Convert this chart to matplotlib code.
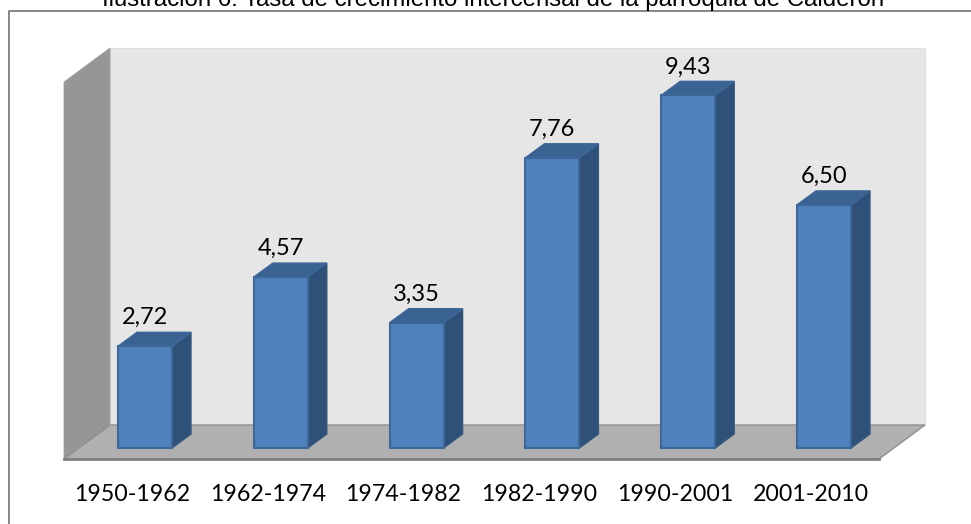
import matplotlib
matplotlib.use("Agg")
import matplotlib.pyplot as plt
from matplotlib.patches import Polygon
from matplotlib.lines import Line2D
from matplotlib.transforms import ScaledTranslation

periods = ["1950-1962", "1962-1974", "1974-1982", "1982-1990", "1990-2001", "2001-2010"]
rates = [2.72, 4.57, 3.35, 7.76, 9.43, 6.50]
title = "Ilustración 6: Tasa de crecimiento intercensal de la parroquia de Calderón"

W, H = 971, 524
fig = plt.figure(figsize=(W / 100, H / 100), dpi=100, facecolor="white")

# front plane of the 3D box, in pixels of the picture
L, R, T, B = 64, 879, 82, 459
ax = fig.add_axes([L / W, 1 - B / H, (R - L) / W, (B - T) / H])
PX_X, PX_Y = 135.8, 37.4
ax.set_xlim((L - 145) / PX_X, (R - 145) / PX_X)
ax.set_ylim(-(B - 448) / PX_Y, (448 - T) / PX_Y)
ax.patch.set_visible(False)
for s in ax.spines.values():
    s.set_visible(False)
ax.set_yticks([])

# outer frame
fig.add_artist(Line2D([8.5 / W, 8.5 / W, 1], [0, 1 - 11 / H, 1 - 11 / H],
                      transform=fig.transFigure, color="#868686", lw=1.4))

# walls and floor in axes fractions
fx, fy = 46 / (R - L), 34 / (B - T)
t = ax.transAxes
ax.add_patch(Polygon([(fx, fy), (1 + fx, fy), (1 + fx, 1 + fy), (fx, 1 + fy)], transform=t,
                     fc="#e6e6e6", ec="#dedede", lw=0.8, clip_on=False, zorder=1))
ax.add_patch(Polygon([(0, 0), (fx, fy), (fx, 1 + fy), (0, 1)], transform=t,
                     fc="#969696", ec="#a0a0a0", lw=0.6, clip_on=False, zorder=1.1))
ax.add_patch(Polygon([(0, 0), (1, 0), (1 + fx, fy), (fx, fy)], transform=t,
                     fc="#b0b0b0", ec="#8e8e8e", lw=1.0, clip_on=False, zorder=1.2))
ax.add_line(Line2D([0, 1], [0, 0], transform=t, color="#7f7f7f", lw=2, clip_on=False, zorder=1.3))

# bars
xs = list(range(len(rates)))
BAR_W = 54 / PX_X
DX, DY = 19 / PX_X, 14 / PX_Y
EDGE = "#3c6797"
ax.bar(xs, rates, width=BAR_W, color="#4f81bd", edgecolor=EDGE, linewidth=1.5, zorder=3)
for x, v in zip(xs, rates):
    r, l = x + BAR_W / 2, x - BAR_W / 2
    ax.add_patch(Polygon([(r, 0), (r + DX, DY), (r + DX, v + DY), (r, v)],
                         fc="#2f5179", ec="#34597f", lw=1.0, zorder=2.9, clip_on=False))
    ax.add_patch(Polygon([(l, v), (r, v), (r + DX, v + DY), (l + DX, v + DY)],
                         fc="#3a6292", ec=EDGE, lw=1.0, zorder=2.9, clip_on=False))
    ax.annotate(f"{v:.2f}".replace(".", ","), (x, v), xytext=(0, 20.5), textcoords="offset points",
                ha="center", va="center", family="Lato", fontsize=17, color="black", zorder=5,
                annotation_clip=False)

ax.set_xticks(xs, periods, family="Lato", fontsize=16.7, color="black")
ax.tick_params(axis="x", length=0, pad=18)
shift = ScaledTranslation(-13 / 100, 0, fig.dpi_scale_trans)
for lab in ax.get_xticklabels():
    lab.set_transform(lab.get_transform() + shift)

fig.text(493.5 / W, 1 - 6 / H, title, ha="center", va="baseline",
         family="Liberation Sans", fontsize=17.3, color="black")

fig.savefig("out.png", dpi=100, facecolor="white")
